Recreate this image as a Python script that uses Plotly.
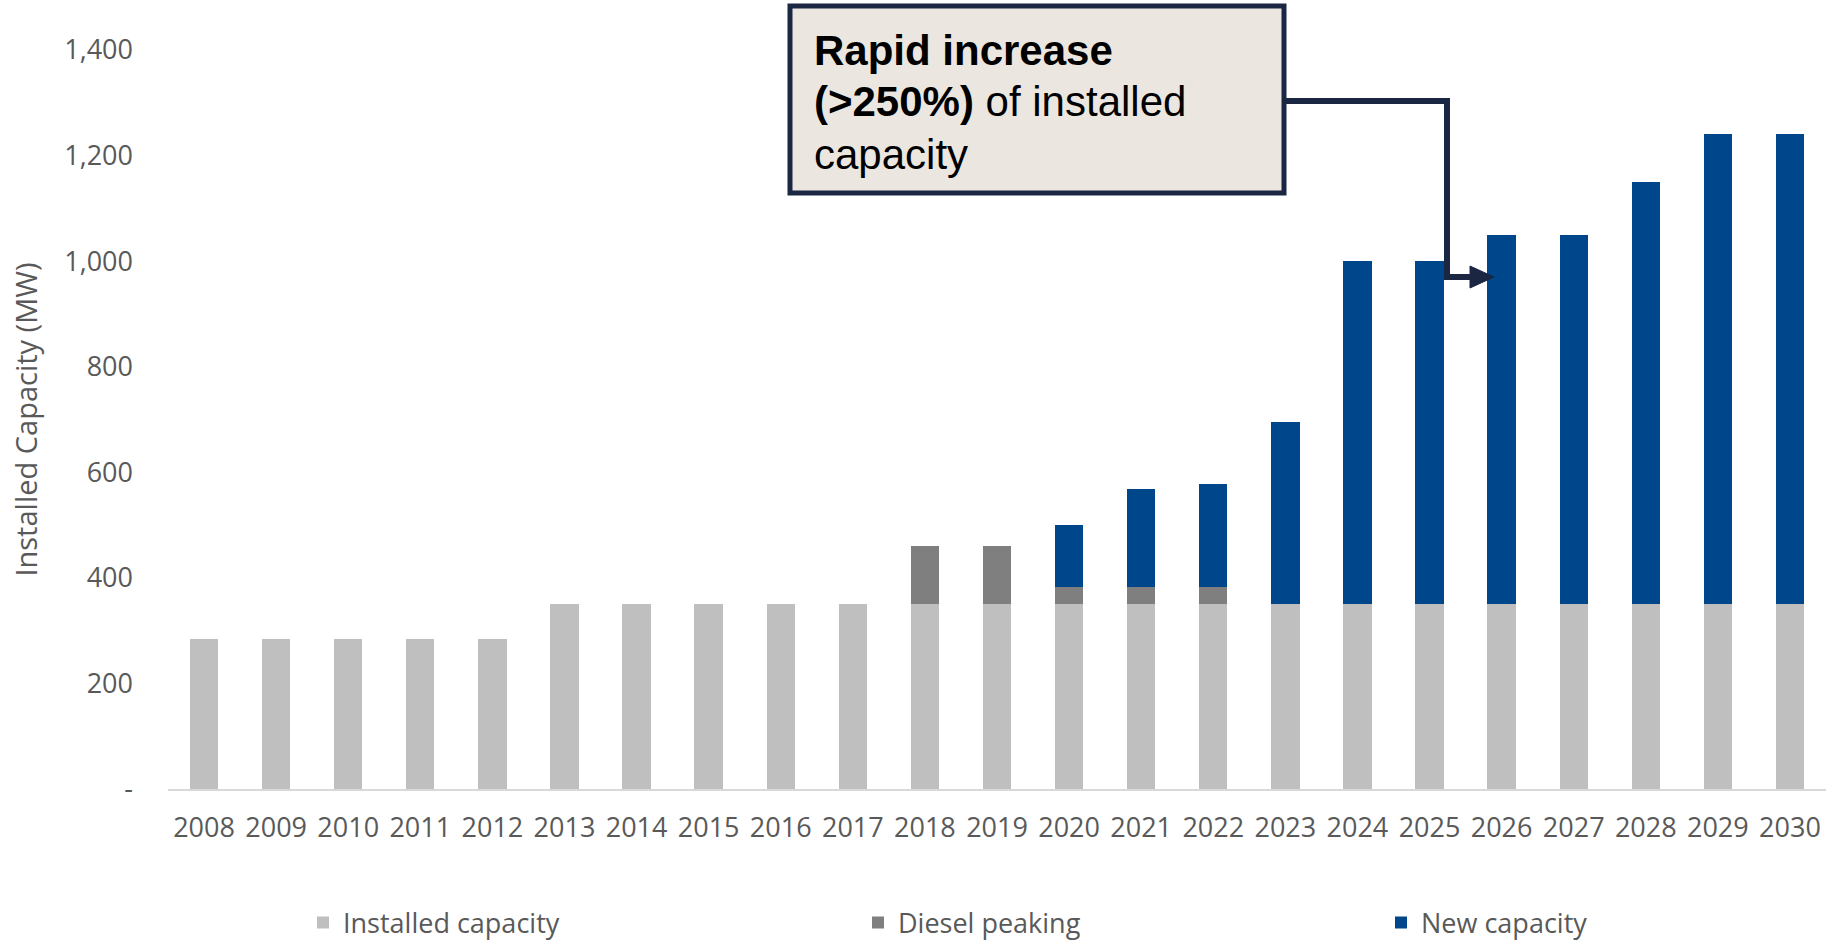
import plotly.graph_objects as go

# ---------------- data ----------------
years = ["2008", "2009", "2010", "2011", "2012", "2013", "2014", "2015",
         "2016", "2017", "2018", "2019", "2020", "2021", "2022", "2023",
         "2024", "2025", "2026", "2027", "2028", "2029", "2030"]
installed_capacity = [285, 285, 285, 285, 285, 350, 350, 350, 350, 350, 350, 350,
                      350, 350, 350, 350, 350, 350, 350, 350, 350, 350, 350]
diesel_peaking = [0, 0, 0, 0, 0, 0, 0, 0, 0, 0, 110, 110,
                  32, 32, 32, 0, 0, 0, 0, 0, 0, 0, 0]
new_capacity = [0, 0, 0, 0, 0, 0, 0, 0, 0, 0, 0, 0,
                118, 186, 196, 345, 650, 650, 700, 700, 800, 890, 890]
y_tickvals = [0, 200, 400, 600, 800, 1000, 1200, 1400]
y_ticktext = ["-", "200", "400", "600", "800", "1,000", "1,200", "1,400"]
series_names = ["Installed capacity", "Diesel peaking", "New capacity"]
callout_lines = ["<b>Rapid increase</b>", "<b>(&gt;250%)</b> of installed", "capacity"]

# ---------------- geometry helpers (pixel -> paper) ----------------
W, H = 1826, 941
ML, MR, MT, MB = 168, 0, 50, 152
PW, PH = W - ML - MR, H - MT - MB


def px(xp):
    return (xp - ML) / PW


def py(yp):
    return (H - MB - yp) / PH


GRAY_TXT = "#595959"
FONT = "Open Sans"
NAVY = "#1B2643"

fig = go.Figure()
colors = ["#BFBFBF", "#7F7F7F", "#00468B"]
legends = ["legend", "legend2", "legend3"]
for name, vals, col, lg in zip(series_names, [installed_capacity, diesel_peaking, new_capacity], colors, legends):
    fig.add_trace(go.Bar(x=years, y=vals, name=name, marker=dict(color=col, line=dict(width=0)),
                         legend=lg))

leg_common = dict(orientation="h", xanchor="left", yanchor="middle", y=py(923),
                  font=dict(family=FONT, size=27, color=GRAY_TXT), bgcolor="rgba(0,0,0,0)")

fig.update_layout(
    width=W, height=H,
    margin=dict(l=ML, r=MR, t=MT, b=MB, autoexpand=False),
    barmode="stack", bargap=0.607,
    plot_bgcolor="white", paper_bgcolor="white",
    showlegend=True,
    legend=dict(x=px(303), **leg_common),
    legend2=dict(x=px(858), **leg_common),
    legend3=dict(x=px(1381), **leg_common),
    xaxis=dict(type="category", showgrid=False, zeroline=False, showline=True,
               linecolor="#D9D9D9", linewidth=2, ticks="",
               tickfont=dict(family=FONT, size=27, color=GRAY_TXT), ticklabelstandoff=14,
               automargin=False),
    yaxis=dict(range=[0, 1400], tickvals=y_tickvals, ticktext=y_ticktext,
               showgrid=False, zeroline=False, showline=False, ticks="",
               tickfont=dict(family=FONT, size=27, color=GRAY_TXT), ticklabelstandoff=34,
               title=dict(text="Installed Capacity (MW)", standoff=18,
                          font=dict(family=FONT, size=29, color=GRAY_TXT)),
               automargin=False),
)

# ---------------- callout box ----------------
fig.add_shape(type="rect", xref="paper", yref="paper",
              x0=px(790), x1=px(1284), y0=py(193), y1=py(6),
              fillcolor="#EBE7E0", line=dict(color=NAVY, width=5), layer="above")
for line_txt, yc in zip(callout_lines, [50, 102, 154]):
    fig.add_annotation(xref="paper", yref="paper", x=px(812), y=py(yc),
                       xanchor="left", yanchor="middle", showarrow=False,
                       text=line_txt, font=dict(family="Liberation Sans", size=42, color="#000000"))

# connector elbow
fig.add_shape(type="path", xref="paper", yref="paper",
              path=f"M {px(1284)} {py(101)} L {px(1447)} {py(101)} L {px(1447)} {py(277)} L {px(1474)} {py(277)}",
              line=dict(color=NAVY, width=6), layer="above")
# arrow head
fig.add_shape(type="path", xref="paper", yref="paper",
              path=f"M {px(1470)} {py(266)} L {px(1494)} {py(277)} L {px(1470)} {py(288)} Z",
              fillcolor=NAVY, line=dict(color=NAVY, width=1), layer="above")

fig.write_html("out.html", config={"displayModeBar": False},
               post_script="document.body.style.margin='0';document.body.style.overflow='hidden';")
